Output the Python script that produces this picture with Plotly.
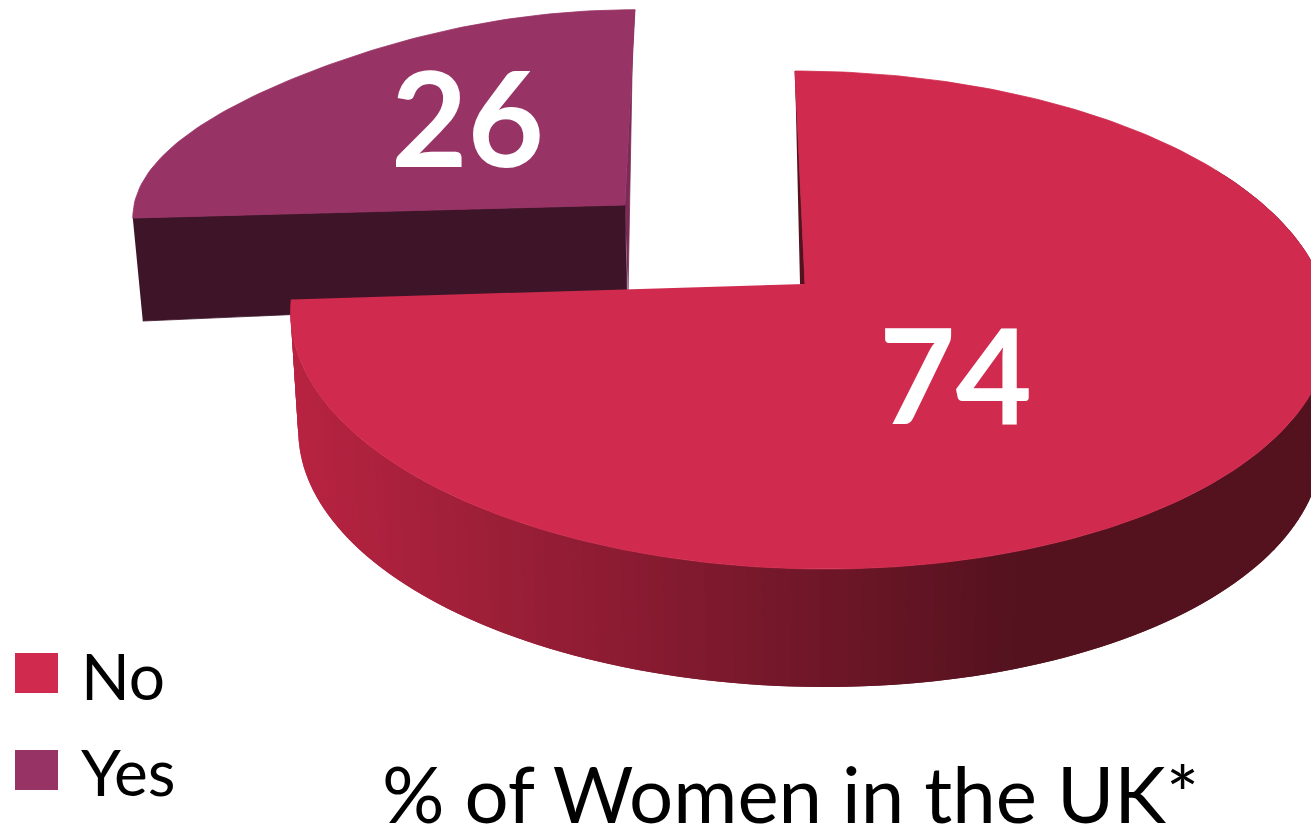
import numpy as np
import plotly.graph_objects as go

categories = ["No", "Yes"]
values = [74, 26]
chart_title = "% of Women in the UK*"

NO_TOP = "#D02B4E"
YES_TOP = "#983366"
YES_WALL = "#3E1428"
YES_EDGE = "#7E2A57"
NO_DARK = "#54121F"
WALL_LIGHT = np.array([0xB8, 0x24, 0x42])
WALL_DARK = np.array([0x54, 0x12, 0x1F])
FONT = "Lato"

total = sum(values)
sweep_no = 2 * np.pi * values[0] / total
sweep_yes = 2 * np.pi * values[1] / total

# projection of a tilted disc to the page
def rim(theta, cx, cy, A, B, k, s, ay, pinch=0.0):
    r = 1 - pinch * np.sin(2 * theta) ** 2
    u, v = r * np.sin(theta), r * np.cos(theta)
    d = 1 + k * v
    y = cy - A * v / d
    x = cx + B * u / d + s * (y - ay)
    return x, y

NO_P = dict(cx=808, cy=284, A=243.8, B=514, k=0.1446, s=0.061, ay=284)
YES_P = dict(cx=625, cy=205, A=207, B=491, k=0.06, s=-0.051, ay=205, pinch=0.045)
NO_APEX = (805, 284)
YES_APEX = (625, 205)

fig = go.Figure()

def poly(x, y, color, width=0.8):
    fig.add_trace(go.Scatter(x=list(x), y=list(y), mode="lines", fill="toself",
                             fillcolor=color, line=dict(color=color, width=width),
                             hoverinfo="skip", showlegend=False))

# ---- Yes slice (pulled out, behind) ----
t_yes = np.linspace(sweep_no, sweep_no + sweep_yes, 90)
xy, yy = rim(t_yes, **YES_P)
# right sliver
poly([YES_APEX[0], xy[-1], xy[-1] - 2, YES_APEX[0] + 3],
     [YES_APEX[1], yy[-1], yy[-1] + 10, YES_APEX[1] + 90], YES_EDGE)
# front wall
poly([xy[0], YES_APEX[0], YES_APEX[0] + 2, xy[0] + 10],
     [yy[0], YES_APEX[1], YES_APEX[1] + 95, yy[0] + 103], YES_WALL)
# top
poly([YES_APEX[0]] + list(xy), [YES_APEX[1]] + list(yy), YES_TOP)

# ---- No slice ----
t_no = np.linspace(0, sweep_no, 300)
xn, yn = rim(t_no, **NO_P)
SCALE, DEPTH = 0.985, 118
t_wall = np.linspace(np.radians(60), sweep_no, 150)
xw, yw = rim(t_wall, **NO_P)
xb = NO_P["cx"] + SCALE * (xw - NO_P["cx"])
yb = yw + DEPTH
for i in range(len(t_wall) - 1):
    j = min(i + 2, len(t_wall) - 1)   # overlap neighbours so that no seams show
    f = np.clip((0.5 * (xb[i] + xb[i + 1]) - 300) / 720, 0, 1)
    c = WALL_LIGHT + (WALL_DARK - WALL_LIGHT) * f
    col = "rgb(%d,%d,%d)" % tuple(c)
    poly([xw[i], xw[j], xb[j], xb[i]], [yw[i], yw[j], yb[j], yb[i]], col, width=0)
# inner cut sliver
poly([xn[0], NO_APEX[0], NO_APEX[0] - 5], [yn[0], NO_APEX[1], NO_APEX[1]], NO_DARK)
# top
poly([NO_APEX[0]] + list(xn), [NO_APEX[1]] + list(yn), NO_TOP)

# ---- value labels ----
annotations = [
    dict(x=955, y=373, text=str(values[0]), showarrow=False,
         font=dict(family=FONT, size=132, color="white", weight="bold")),
    dict(x=467, y=116, text=str(values[1]), showarrow=False,
         font=dict(family=FONT, size=132, color="white", weight="bold")),
    dict(x=790, y=793, text=chart_title, showarrow=False,
         font=dict(family=FONT, size=78, color="black")),
    dict(x=79, y=675, text=categories[0], showarrow=False, xanchor="left",
         font=dict(family=FONT, size=64, color="black")),
    dict(x=79, y=771, text=categories[1], showarrow=False, xanchor="left",
         font=dict(family=FONT, size=64, color="black")),
]

shapes = [
    dict(type="rect", x0=15, x1=58, y0=653, y1=693, fillcolor=NO_TOP, line_width=0, layer="above"),
    dict(type="rect", x0=15, x1=58, y0=750, y1=790, fillcolor=YES_TOP, line_width=0, layer="above"),
]

fig.update_layout(
    width=1311, height=826,
    margin=dict(l=0, r=0, t=0, b=0),
    paper_bgcolor="white", plot_bgcolor="white",
    xaxis=dict(range=[0, 1311], visible=False, fixedrange=True),
    yaxis=dict(range=[826, 0], visible=False, fixedrange=True),
    annotations=annotations, shapes=shapes, showlegend=False,
)
fig.write_html("out.html", config=dict(displayModeBar=False),
               post_script="document.body.style.margin='0';document.body.style.overflow='hidden';")
